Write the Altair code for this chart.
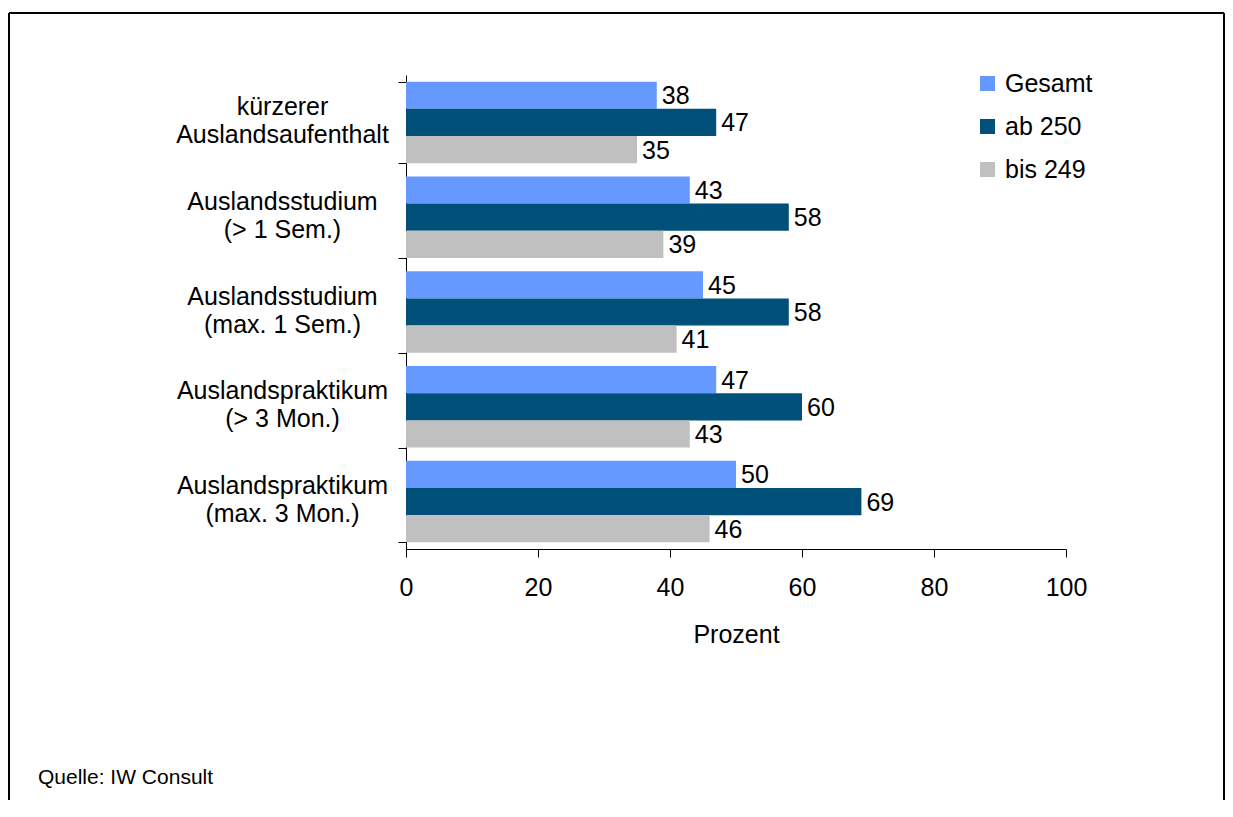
import altair as alt
import pandas as pd

# ---- data ----
categories = [
    "kürzerer|Auslandsaufenthalt",
    "Auslandsstudium|(> 1 Sem.)",
    "Auslandsstudium|(max. 1 Sem.)",
    "Auslandspraktikum|(> 3 Mon.)",
    "Auslandspraktikum|(max. 3 Mon.)",
]
series = ["Gesamt", "ab 250", "bis 249"]
gesamt = [38, 43, 45, 47, 50]
ab_250 = [47, 58, 58, 60, 69]
bis_249 = [35, 39, 41, 43, 46]
x_ticks = [0, 20, 40, 60, 80, 100]
x_title = "Prozent"
source_note = ["Quelle: IW Consult"]

colors = ["#6699FF", "#01507A", "#C0C0C0"]
FONT = "Liberation Sans"
FS = 25

rows = []
for i, cat in enumerate(categories):
    for s, vals in zip(series, [gesamt, ab_250, bis_249]):
        rows.append({"cat": cat, "series": s, "value": vals[i]})
df = pd.DataFrame(rows)

W, H = 660, 474

y_enc = alt.Y(
    "cat:N",
    sort=categories,
    scale=alt.Scale(paddingInner=0.14, paddingOuter=0.07),
    axis=alt.Axis(
        title=None,
        labelExpr="split(datum.label, '|')",
        labelAlign="center",
        labelBaseline="middle",
        labelOffset=-16,
        labelPadding=116,
        tickSize=8,
        tickBand="extent",
        labelFontSize=FS,
        labelLineHeight=28,
        labelFont=FONT,
        labelColor="black",
        domainColor="black",
        tickColor="black",
        labelLimit=400,
        grid=False,
    ),
)
yoff = alt.YOffset("series:N", sort=series, scale=alt.Scale(paddingInner=0, paddingOuter=0))
x_enc = alt.X(
    "value:Q",
    scale=alt.Scale(domain=[0, 100]),
    axis=alt.Axis(
        values=x_ticks,
        title=x_title,
        grid=False,
        tickSize=8,
        labelFlush=False,
        labelFontSize=FS,
        labelFont=FONT,
        labelColor="black",
        labelPadding=18,
        titleFontSize=FS,
        titleFont=FONT,
        titleFontWeight="normal",
        titleColor="black",
        titlePadding=22,
        domainColor="black",
        tickColor="black",
    ),
)

base = alt.Chart(df)

bars = base.mark_bar().encode(
    y=y_enc,
    yOffset=yoff,
    x=x_enc,
    color=alt.Color(
        "series:N",
        sort=series,
        scale=alt.Scale(domain=series, range=colors),
        legend=alt.Legend(
            title=None,
            orient="none",
            legendX=569,
            legendY=-4,
            symbolType="square",
            symbolSize=225,
            symbolStrokeWidth=0,
            labelFontSize=FS,
            labelFont=FONT,
            labelColor="black",
            labelOffset=5,
            rowPadding=17,
        ),
    ),
)

labels = base.mark_text(align="left", baseline="middle", dx=5, dy=1, fontSize=FS, font=FONT, color="black").encode(
    y=alt.Y("cat:N", sort=categories),
    yOffset=alt.YOffset("series:N", sort=series),
    x="value:Q",
    text=alt.Text("value:Q", format=".0f"),
)

one = pd.DataFrame({"k": [0]})
frame_top = alt.Chart(one).mark_rule(color="black", strokeWidth=2).encode(
    x=alt.value(-397), x2=alt.value(818), y=alt.value(-62)
)
frame_left = alt.Chart(one).mark_rule(color="black", strokeWidth=2).encode(
    x=alt.value(-397), y=alt.value(-62), y2=alt.value(725)
)
frame_right = alt.Chart(one).mark_rule(color="black", strokeWidth=2).encode(
    x=alt.value(818), y=alt.value(-62), y2=alt.value(725)
)
note = alt.Chart(pd.DataFrame({"t": source_note})).mark_text(
    align="left", baseline="middle", fontSize=21, font=FONT, color="black"
).encode(x=alt.value(-368), y=alt.value(703), text="t:N")

chart = alt.layer(bars, labels, frame_top, frame_left, frame_right, note).properties(
    width=W, height=H, background="white",
    padding={"left": 0, "top": 4, "right": 0, "bottom": 0},
).configure_view(stroke=None)

chart.save("out.html", embed_options={"renderer": "svg", "actions": False})
